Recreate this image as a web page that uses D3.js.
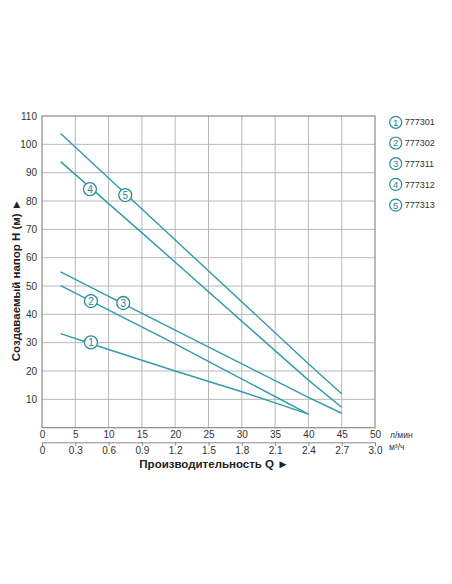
<!DOCTYPE html>
<html>
<head>
<meta charset="utf-8">
<script src="https://cdn.jsdelivr.net/npm/d3@7"></script>
<style>
  body { margin: 0; background: #fff; }
  svg text { font-family: "Liberation Sans", Arial, sans-serif; }
</style>
</head>
<body>
<script>
var width = 452;
var height = 584;
var plotLeft = 42, plotRight = 375, plotTop = 116, plotBottom = 427.7;
var lineColor = "#2f9bad";

// pump models
var models = ["777301", "777302", "777311", "777312", "777313"];

// curves: flow Q (l/min) and head H (m)
var q1 = [2.8, 10, 20, 30, 40];
var h1 = [33.2, 27.6, 20.0, 12.7, 4.8];
var q2 = [2.8, 20, 40];
var h2 = [50.1, 29.6, 4.8];
var q3 = [2.8, 14.8, 40, 45];
var h3 = [55.0, 40.6, 10.7, 5.1];
var q4 = [2.8, 14.8, 40, 45];
var h4 = [93.9, 69.2, 16.8, 7.2];
var q5 = [2.8, 40, 45];
var h5 = [103.8, 22.6, 12.0];

// where the number badges sit on each curve
var badgeQ = [7.35, 7.35, 12.2, 7.2, 12.5];
var badgeH = [30.1, 44.7, 44.0, 84.2, 82.1];

var flowTicks = [0, 5, 10, 15, 20, 25, 30, 35, 40, 45, 50];
var m3Ticks = [0, 0.3, 0.6, 0.9, 1.2, 1.5, 1.8, 2.1, 2.4, 2.7, 3.0];
var headTicks = [10, 20, 30, 40, 50, 60, 70, 80, 90, 100, 110];

var curves = [[q1, h1], [q2, h2], [q3, h3], [q4, h4], [q5, h5]];

let svg = d3.select("body")
            .append("svg")
            .attr("width", width)
            .attr("height", height);

var xScale = d3.scaleLinear().domain([0, 50]).range([plotLeft, plotRight]);
var xScale2 = d3.scaleLinear().domain([0, 3]).range([plotLeft, plotRight]);
var yScale = d3.scaleLinear().domain([0, 110]).range([plotBottom, plotTop]);

// grid
svg.append("g")
   .selectAll("line")
   .data(flowTicks.slice(1, -1))
   .join("line")
     .attr("x1", d => xScale(d)).attr("x2", d => xScale(d))
     .attr("y1", plotTop).attr("y2", plotBottom)
     .attr("stroke", "#b8b8b8").attr("stroke-width", 1);

svg.append("g")
   .selectAll("line")
   .data(headTicks.slice(0, -1))
   .join("line")
     .attr("x1", plotLeft).attr("x2", plotRight)
     .attr("y1", d => yScale(d)).attr("y2", d => yScale(d))
     .attr("stroke", "#b8b8b8").attr("stroke-width", 1);

svg.append("rect")
   .attr("x", plotLeft).attr("y", plotTop)
   .attr("width", plotRight - plotLeft).attr("height", plotBottom - plotTop)
   .attr("fill", "none").attr("stroke", "#8a8a8a").attr("stroke-width", 1.2);

// axes
var xAxis = d3.axisBottom(xScale).tickValues(flowTicks).tickSize(0).tickPadding(3);
var gx = svg.append("g").attr("transform", `translate(0,${plotBottom})`).call(xAxis);
gx.select(".domain").remove();

var xAxis2 = d3.axisBottom(xScale2).tickValues(m3Ticks).tickSize(3.5).tickPadding(1)
               .tickFormat(d => d === 0 ? "0" : d.toFixed(1));
var gx2 = svg.append("g").attr("transform", `translate(0,442.3)`).call(xAxis2);
gx2.select(".domain").attr("stroke", "#8a8a8a");
gx2.selectAll(".tick line").attr("stroke", "#8a8a8a");

var yAxis = d3.axisLeft(yScale).tickValues(headTicks).tickSize(0).tickPadding(5);
var gy = svg.append("g").attr("transform", `translate(${plotLeft},0)`).call(yAxis);
gy.select(".domain").remove();

svg.selectAll(".tick text")
   .attr("font-size", 10)
   .attr("fill", "#333")
   .style("font-family", "'Liberation Sans', Arial, sans-serif");

// unit labels
svg.append("text").attr("x", 390).attr("y", 437.5)
   .attr("font-size", 8.5).attr("fill", "#333").text("л/мин");
svg.append("text").attr("x", 389).attr("y", 449.5)
   .attr("font-size", 8.5).attr("fill", "#333").text("м³/ч");

// axis titles
svg.append("text")
   .attr("x", 214).attr("y", 467.5)
   .attr("text-anchor", "middle")
   .attr("font-size", 11.5).attr("font-weight", "bold").attr("fill", "#222")
   .text("Производительность Q ►");

svg.append("text")
   .attr("transform", "translate(19.5,280) rotate(-90)")
   .attr("text-anchor", "middle")
   .attr("font-size", 11.5).attr("font-weight", "bold").attr("fill", "#222")
   .text("Создаваемый напор H (м) ►");

// curves
var line = d3.line()
  .x(d => xScale(d[0]))
  .y(d => yScale(d[1]));

svg.selectAll(".curve")
   .data(curves)
   .join("path")
     .attr("class", "curve")
     .attr("fill", "none")
     .attr("stroke", lineColor)
     .attr("stroke-width", 1.4)
     .attr("d", c => line(c[0].map((q, i) => [q, c[1][i]])));

// numbered badges on curves
var badges = svg.selectAll(".badge")
   .data(models)
   .join("g")
     .attr("class", "badge")
     .attr("transform", (d, i) => `translate(${xScale(badgeQ[i])},${yScale(badgeH[i])})`);
badges.append("circle").attr("r", 6.5)
   .attr("fill", "#fff").attr("stroke", "#2a8a9a").attr("stroke-width", 1.3);
badges.append("text")
   .attr("text-anchor", "middle").attr("dy", "0.36em")
   .attr("font-size", 10).attr("fill", "#2a7f8f")
   .text((d, i) => i + 1);

// legend
var legend = svg.selectAll(".legend")
   .data(models)
   .join("g")
     .attr("class", "legend")
     .attr("transform", (d, i) => `translate(395.7,${122.3 + i * 20.7})`);
legend.append("circle").attr("r", 6)
   .attr("fill", "#fff").attr("stroke", "#2a8a9a").attr("stroke-width", 1.2);
legend.append("text")
   .attr("text-anchor", "middle").attr("dy", "0.36em")
   .attr("font-size", 9.5).attr("fill", "#2a7f8f")
   .text((d, i) => i + 1);
legend.append("text")
   .attr("x", 9).attr("dy", "0.35em")
   .attr("font-size", 9).attr("fill", "#333")
   .text(d => d);
</script>
</body>
</html>
